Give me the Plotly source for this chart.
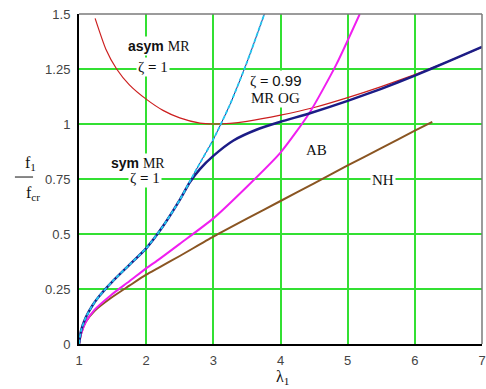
import plotly.graph_objects as go

# ---- data ----
sym_x = [1, 1.03, 1.1, 1.2, 1.3, 1.5, 1.75, 2, 2.25, 2.5, 2.75, 3, 3.25, 3.5, 3.76]
sym_y = [0, 0.06, 0.12, 0.175, 0.217, 0.285, 0.36, 0.435, 0.535, 0.655, 0.795, 0.93, 1.09, 1.28, 1.5]

og_x = [1, 1.03, 1.1, 1.2, 1.3, 1.5, 1.75, 2, 2.25, 2.5, 2.65, 2.8, 3, 3.3, 3.65, 4, 4.45, 5, 5.5, 6, 6.5, 7]
og_y = [0, 0.06, 0.12, 0.175, 0.217, 0.285, 0.36, 0.435, 0.535, 0.655, 0.735, 0.795, 0.855, 0.925, 0.975, 1.01, 1.05, 1.105, 1.16, 1.22, 1.285, 1.35]

asym_x = [1.24, 1.4, 1.56, 1.75, 2, 2.25, 2.5, 2.8, 3, 3.25, 3.5, 4, 4.5, 5, 5.5, 6, 6.5, 7]
asym_y = [1.48, 1.34, 1.25, 1.178, 1.113, 1.062, 1.028, 1.004, 1.0, 1.003, 1.012, 1.04, 1.075, 1.12, 1.17, 1.225, 1.285, 1.35]

ab_x = [1, 1.035, 1.1, 1.23, 1.48, 1.75, 2, 2.17, 2.5, 3, 3.5, 4, 4.43, 4.83, 5.18]
ab_y = [0, 0.05, 0.1, 0.155, 0.223, 0.285, 0.344, 0.38, 0.455, 0.571, 0.715, 0.87, 1.05, 1.27, 1.5]

nh_x = [1, 1.035, 1.1, 1.23, 1.48, 1.75, 2, 2.17, 2.5, 3, 3.5, 4, 4.5, 5, 5.5, 6, 6.26]
nh_y = [0, 0.05, 0.1, 0.15, 0.21, 0.265, 0.315, 0.344, 0.4, 0.488, 0.57, 0.65, 0.73, 0.812, 0.89, 0.97, 1.01]

x_ticks = [1, 2, 3, 4, 5, 6, 7]
x_tick_text = ["1", "2", "3", "4", "5", "6", "7"]
y_ticks = [0, 0.25, 0.5, 0.75, 1, 1.25, 1.5]
y_tick_text = ["0", "0.25", "0.5", "0.75", "1", "1.25", "1.5"]

SERIF = "Liberation Serif"
SANS = "Liberation Sans"

def line(x, y, color, width, dash=None):
    return go.Scatter(x=x, y=y, mode="lines",
                      line=dict(color=color, width=width, dash=dash, shape="spline", smoothing=0.6),
                      hoverinfo="skip")

fig = go.Figure()
fig.add_trace(line(asym_x, asym_y, "#cc1f1f", 1.2))
fig.add_trace(line(nh_x, nh_y, "#8a5522", 2))
fig.add_trace(line(ab_x, ab_y, "#f01ef0", 2))
fig.add_trace(line(og_x, og_y, "#1c1c86", 2.5))
fig.add_trace(line(sym_x, sym_y, "#1c1c86", 1))
fig.add_trace(line(sym_x, sym_y, "#22c8f0", 1.8, "4px,2px"))

ann_common = dict(xref="x", yref="y", showarrow=False, bgcolor="white", borderpad=1)
annots = [
    dict(x=2.19, y=1.355, text="<b>asym</b> <span style='font-family:Liberation Serif'>MR</span>",
         font=dict(family=SANS, size=14, color="#111")),
    dict(x=2.1, y=1.26, text="ζ <b>=</b> 1", font=dict(family=SERIF, size=15, color="#111")),
    dict(x=1.88, y=0.825, text="<b>sym</b> <span style='font-family:Liberation Serif'>MR</span>",
         font=dict(family=SANS, size=14, color="#111")),
    dict(x=1.98, y=0.755, text="ζ <b>=</b> 1", font=dict(family=SERIF, size=15, color="#111")),
    dict(x=3.92, y=1.2, text="ζ <b>=</b> <span style='font-family:Liberation Sans'>0.99</span>",
         font=dict(family=SERIF, size=15, color="#111")),
    dict(x=3.92, y=1.117, text="MR OG", font=dict(family=SERIF, size=15, color="#111")),
    dict(x=4.54, y=0.88, text="AB", font=dict(family=SERIF, size=15, color="#111")),
    dict(x=5.53, y=0.745, text="NH", font=dict(family=SERIF, size=15, color="#111")),
]
for a in annots:
    fig.add_annotation(**ann_common, **a)

# axis titles (fraction on y)
fig.add_annotation(xref="paper", yref="paper", x=-0.139, y=0.548, text="f<sub>1</sub>", showarrow=False,
                   font=dict(family=SERIF, size=16, color="#111"))
fig.add_annotation(xref="paper", yref="paper", x=-0.136, y=0.455, text="f<sub>cr</sub>", showarrow=False,
                   font=dict(family=SERIF, size=16, color="#111"))
fig.add_shape(type="line", xref="paper", yref="paper", x0=-0.159, x1=-0.114, y0=0.506, y1=0.506,
              line=dict(color="#111", width=1))
fig.add_annotation(xref="paper", yref="paper", x=0.506, y=-0.1, yanchor="middle", text="λ<sub>1</sub>",
                   showarrow=False, font=dict(family=SERIF, size=16, color="#111"))

# gray top / right frame
fig.add_shape(type="line", xref="paper", yref="paper", x0=0, x1=1, y0=1, y1=1, line=dict(color="#7a7a7a", width=1.5))
fig.add_shape(type="line", xref="paper", yref="paper", x0=1, x1=1, y0=0, y1=1, line=dict(color="#7a7a7a", width=1.5))

fig.update_xaxes(range=[1, 7], tickvals=x_ticks, ticktext=x_tick_text, showgrid=True, gridcolor="#33e033",
                 gridwidth=1.5, zeroline=False, showline=True, linecolor="#000", linewidth=2,
                 tickfont=dict(family=SANS, size=13, color="#444"), ticks="", ticklabelstandoff=3,
                 fixedrange=True, automargin=False)
fig.update_yaxes(range=[0, 1.5], tickvals=y_ticks, ticktext=y_tick_text, showgrid=True, gridcolor="#33e033",
                 gridwidth=1.5, zeroline=False, showline=True, linecolor="#000", linewidth=2,
                 tickfont=dict(family=SANS, size=13, color="#444"), ticks="", ticklabelstandoff=4,
                 fixedrange=True, automargin=False)

fig.update_layout(width=486, height=389, margin=dict(l=79, r=4, t=14, b=45),
                  plot_bgcolor="white", paper_bgcolor="white", showlegend=False)

fig.write_html("out.html", config={"displayModeBar": False},
               post_script="document.body.style.margin='0';document.body.style.overflow='hidden';")
